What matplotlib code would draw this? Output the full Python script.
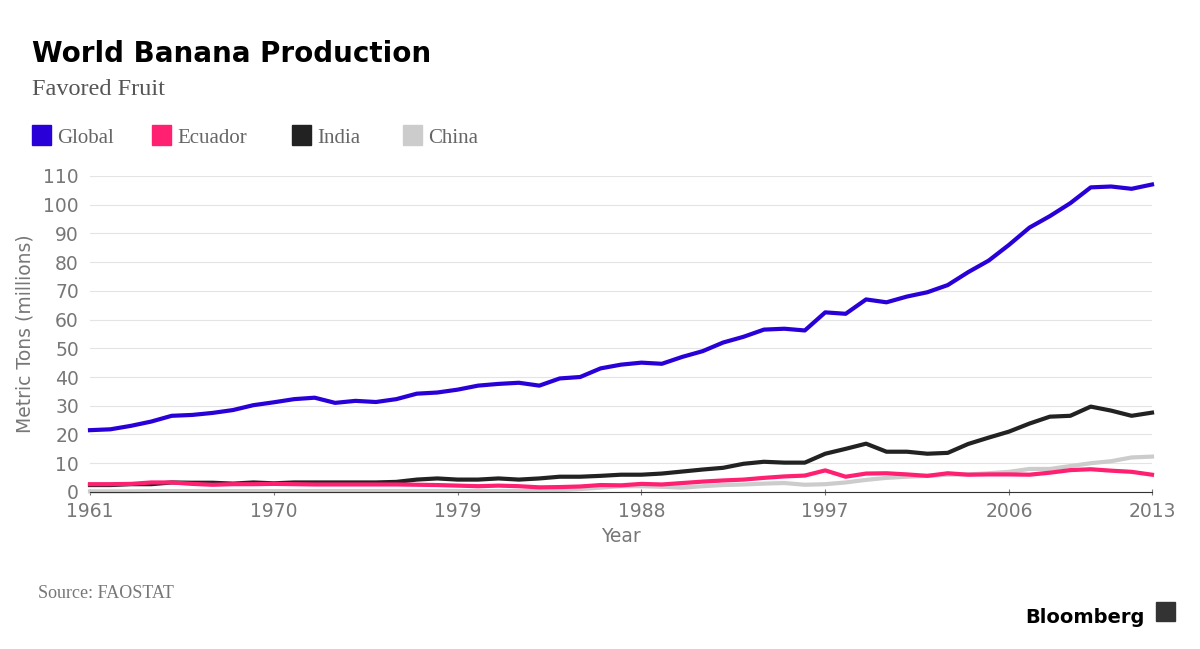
import matplotlib
matplotlib.use("Agg")
import matplotlib.pyplot as plt

years = list(range(1961, 2014))
global_prod = [21.5,21.8,23,24.5,26.5,26.8,27.5,28.5,30.2,31.2,32.3,32.8,31,31.7,31.3,32.3,34.2,34.6,35.6,37,37.6,38,37,39.5,40,43,44.3,45,44.6,47,49,52,54,56.5,56.8,56.2,62.5,62,67,66,68,69.5,72,76.5,80.5,86,92,96,100.5,106,106.3,105.5,107]
ecuador = [2.7,2.7,2.8,3.3,3.3,2.8,2.5,2.7,2.7,2.8,2.7,2.6,2.6,2.6,2.6,2.6,2.5,2.4,2.2,2.0,2.2,2.0,1.6,1.7,1.9,2.4,2.3,2.8,2.6,3.1,3.6,4.0,4.3,4.9,5.4,5.7,7.5,5.3,6.4,6.5,6.1,5.6,6.5,6.0,6.1,6.1,6.0,6.7,7.6,7.9,7.4,7.0,6.0]
india = [2.4,2.4,2.7,2.7,3.3,3.2,3.2,2.9,3.3,3.0,3.3,3.3,3.3,3.3,3.3,3.5,4.3,4.7,4.3,4.3,4.7,4.3,4.7,5.3,5.3,5.6,6.0,6.0,6.4,7.1,7.8,8.4,9.8,10.5,10.2,10.2,13.3,15.0,16.8,14.0,14.0,13.3,13.6,16.7,18.9,21.0,23.8,26.2,26.5,29.7,28.3,26.5,27.6]
china = [0.2,0.2,0.2,0.3,0.3,0.3,0.3,0.3,0.3,0.3,0.3,0.3,0.3,0.3,0.3,0.3,0.3,0.3,0.3,0.3,0.3,0.3,0.4,0.6,1.0,1.5,2.0,2.0,1.8,1.5,2.0,2.4,2.6,2.9,3.1,2.5,2.7,3.3,4.2,4.9,5.3,5.6,6.0,6.1,6.5,7.0,8.0,8.0,9.0,10.0,10.7,12.0,12.3]
series = [("Global", global_prod, "#2a00d8"), ("Ecuador", ecuador, "#ff2071"),
          ("India", india, "#222222"), ("China", china, "#cccccc")]
xticks = [1961, 1970, 1979, 1988, 1997, 2006, 2013]
yticks = list(range(0, 111, 10))

fig = plt.figure(figsize=(12, 6.49), dpi=100)
ax = fig.add_axes([0.075, 0.242, 0.885, 0.487])
for name, vals, c in reversed(series):
    ax.plot(years, vals, color=c, lw=3, solid_joinstyle="round", clip_on=False)
ax.set_xlim(1961, 2013)
ax.set_ylim(0, 110)
ax.set_xticks(xticks)
ax.set_yticks(yticks)
ax.grid(axis="y", color="#e4e4e4", lw=0.8)
ax.set_axisbelow(True)
for s in ["top", "right", "left"]:
    ax.spines[s].set_visible(False)
ax.spines["bottom"].set_color("#333333")
ax.tick_params(axis="y", length=0, labelsize=13.5, colors="#777777", pad=8)
ax.tick_params(axis="x", length=5, labelsize=13.5, colors="#777777", direction="inout", pad=5)
ax.set_xlabel("Year", fontsize=13.5, color="#777777", labelpad=4)
ax.set_ylabel("Metric Tons (millions)", fontsize=13.5, color="#777777", labelpad=6)

fig.text(0.027, 0.905, "World Banana Production", fontsize=20, fontweight="heavy", family="DejaVu Sans", color="#000000")
fig.text(0.027, 0.853, "Favored Fruit", fontsize=17.5, family="Liberation Serif", color="#555555")
for (name, vals, c), px in zip(series, [32, 152, 292, 403]):
    x = px / 1200
    fig.patches.append(plt.Rectangle((x, 0.777), 0.016, 0.03, transform=fig.transFigure, color=c))
    fig.text(x + 0.021, 0.779, name, fontsize=15, family="Liberation Serif", color="#666666")
fig.text(0.032, 0.079, "Source: FAOSTAT", fontsize=13, family="Liberation Serif", color="#777777")
fig.text(0.954, 0.04, "Bloomberg", fontsize=14, fontweight="bold", color="#000000", ha="right")
fig.patches.append(plt.Rectangle((0.963, 0.043), 0.016, 0.03, transform=fig.transFigure, color="#333333"))
fig.savefig("out.png", dpi=100)
